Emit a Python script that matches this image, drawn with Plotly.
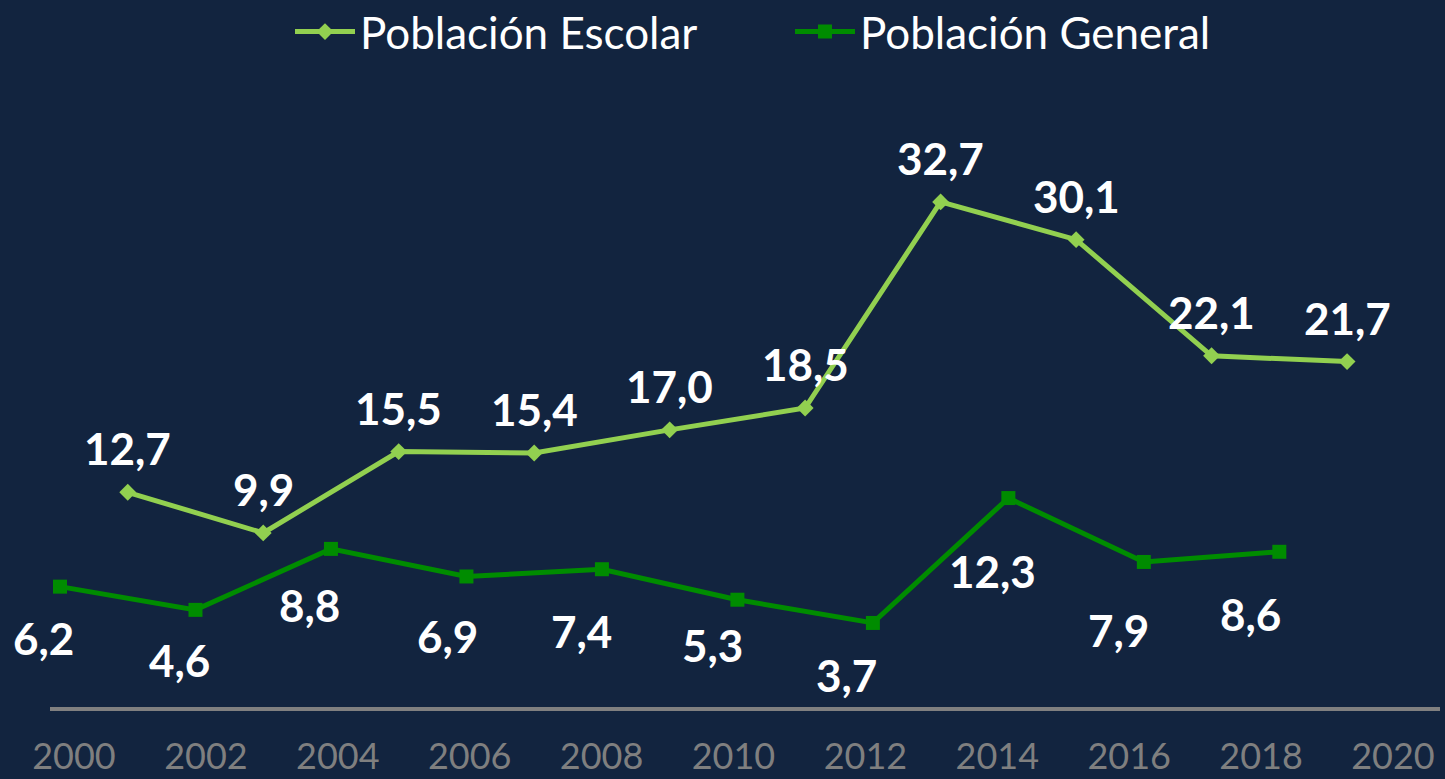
import plotly.graph_objects as go

# ---- data ----
years_escolar = [2001, 2003, 2005, 2007, 2009, 2011, 2013, 2015, 2017, 2019]
escolar = [12.7, 9.9, 15.5, 15.4, 17.0, 18.5, 32.7, 30.1, 22.1, 21.7]
years_general = [2000, 2002, 2004, 2006, 2008, 2010, 2012, 2014, 2016, 2018]
general = [6.2, 4.6, 8.8, 6.9, 7.4, 5.3, 3.7, 12.3, 7.9, 8.6]
tick_years = [2000, 2002, 2004, 2006, 2008, 2010, 2012, 2014, 2016, 2018, 2020]
series_names = ["Población Escolar", "Población General"]

# label placement (pixel shifts), kept apart from the data
general_label_shift = [(-17, -51), (-16, -50), (-21, -56), (-19, -60), (-20, -62),
                       (-25, -45), (-26, -52), (-16, -73), (-25, -68), (-29, -62)]
escolar_label_shift_y = 44

BG = "#12243F"
LIGHT = "#92D050"
DARK = "#008C00"
FONT = "Lato"


def fmt(v):
    return f"{v:.1f}".replace(".", ",")


fig = go.Figure()
fig.add_trace(go.Scatter(
    x=years_escolar, y=escolar, name=series_names[0], mode="lines+markers",
    line=dict(color=LIGHT, width=5), marker=dict(symbol="diamond", size=13, color=LIGHT),
))
fig.add_trace(go.Scatter(
    x=years_general, y=general, name=series_names[1], mode="lines+markers",
    line=dict(color=DARK, width=5), marker=dict(symbol="square", size=14, color=DARK),
))
# invisible trace to anchor the label axis
fig.add_trace(go.Scatter(x=tick_years, y=[None] * len(tick_years), xaxis="x2",
                         showlegend=False, hoverinfo="skip", mode="markers"))

annotations = []
for x, v in zip(years_escolar, escolar):
    annotations.append(dict(x=x, y=v, xref="x", yref="y", text=fmt(v), showarrow=False,
                            yshift=escolar_label_shift_y,
                            font=dict(family=FONT, size=44, color="white", weight="bold")))
for (x, v), (dx, dy) in zip(zip(years_general, general), general_label_shift):
    annotations.append(dict(x=x, y=v, xref="x", yref="y", text=fmt(v), showarrow=False,
                            xshift=dx, yshift=dy,
                            font=dict(family=FONT, size=44, color="white", weight="bold")))

# pixel geometry
plot_l, plot_r = 50, 1440
per_year = 67.74
r0 = 2000 - (60 - plot_l) / per_year
r1 = r0 + (plot_r - plot_l) / per_year
lab_per_year = 65.95
q0 = 2000 - (74 - plot_l) / lab_per_year
q1 = q0 + (plot_r - plot_l) / lab_per_year

fig.update_layout(
    width=1445, height=779,
    paper_bgcolor=BG, plot_bgcolor=BG,
    margin=dict(l=plot_l, r=1445 - plot_r, t=93, b=72, autoexpand=False),
    font=dict(family=FONT, color="white"),
    showlegend=True,
    legend=dict(orientation="h", xref="container", x=290 / 1445, xanchor="left",
                yref="container", y=1 - 32 / 779,
                yanchor="middle", font=dict(family=FONT, size=44, color="white"),
                bgcolor="rgba(0,0,0,0)", entrywidth=425, itemwidth=60),
    xaxis=dict(range=[r0, r1], showgrid=False, zeroline=False, showticklabels=False,
               showline=True, linecolor="#808080", linewidth=4, ticks="", automargin=False),
    xaxis2=dict(range=[q0, q1], overlaying="x", anchor="y", side="bottom",
                tickvals=tick_years, ticktext=[str(t) for t in tick_years],
                showgrid=False, zeroline=False, showline=False, ticks="",
                tickfont=dict(family=FONT, size=36, color="#7F7F7F"),
                ticklabelstandoff=25, automargin=False),
    yaxis=dict(range=[-2.09, 40.2], showgrid=False, zeroline=False, showticklabels=False,
               showline=False, automargin=False),
    annotations=annotations,
)

fig.write_html("out.html", config={"displayModeBar": False},
               post_script="document.body.style.margin='0';document.body.style.overflow='hidden';")
